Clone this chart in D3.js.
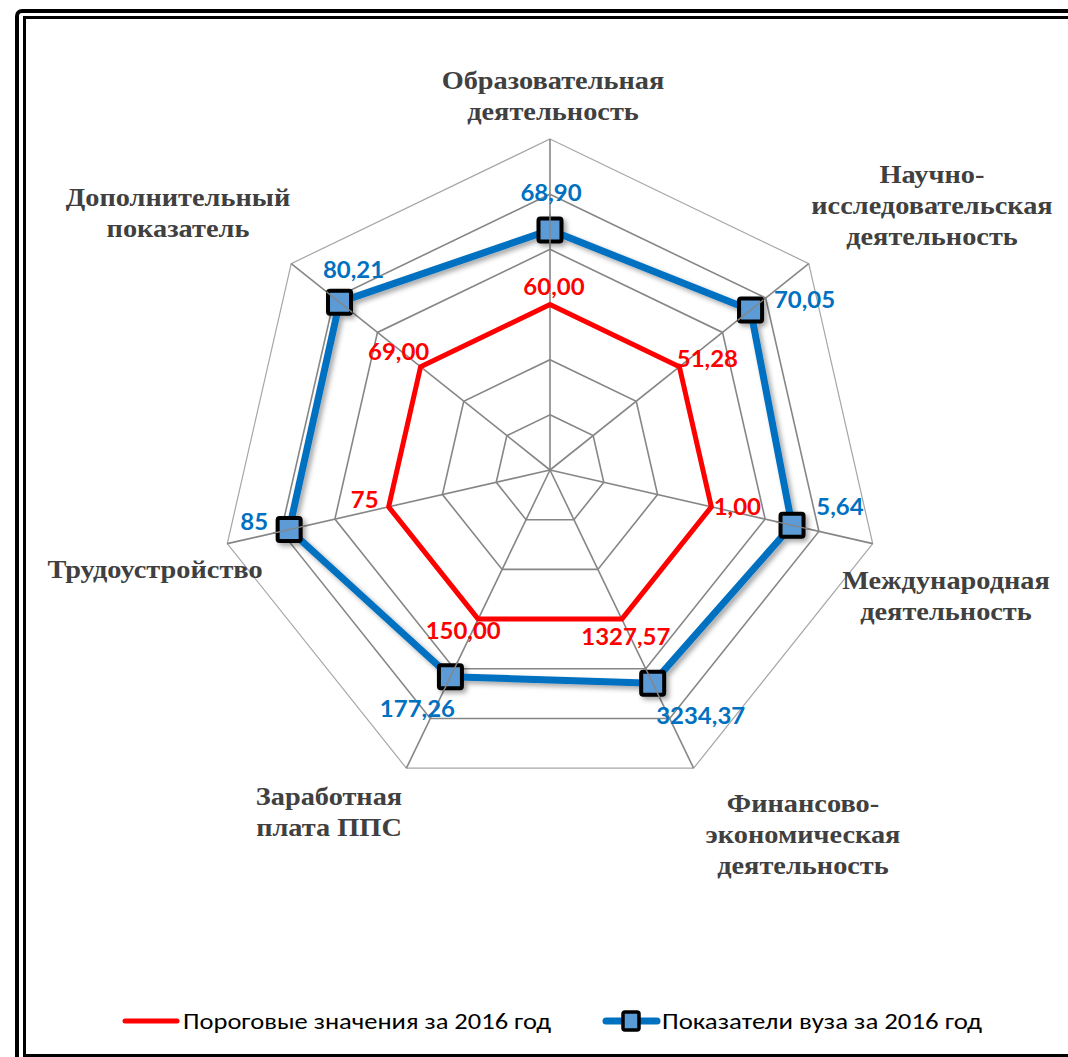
<!DOCTYPE html>
<html>
<head>
<meta charset="utf-8">
<script src="https://cdn.jsdelivr.net/npm/d3@7"></script>
<style>
  body { margin: 0; background: #fff; }
  svg { display: block; }
  .cat { font-family: "Liberation Serif", "Times New Roman", serif; font-weight: bold; font-size: 26px; fill: #404040; }
  .val { font-family: Lato, Carlito, Calibri, sans-serif; font-weight: bold; font-size: 22px; }
  .leg { font-family: Carlito, Calibri, Lato, sans-serif; font-size: 23px; fill: #000; }
</style>
</head>
<body>
<script>
// categories (axes), clockwise from the top
var categories = [
    ["Образовательная", "деятельность"],
    ["Научно-", "исследовательская", "деятельность"],
    ["Международная", "деятельность"],
    ["Финансово-", "экономическая", "деятельность"],
    ["Заработная", "плата ППС"],
    ["Трудоустройство"],
    ["Дополнительный", "показатель"]
];

// plotted (normalised) scores and their printed labels
var thresholdScore  = [3, 3, 3, 3, 3, 3, 3];
var thresholdLabels = ["60,00", "51,28", "1,00", "1327,57", "150,00", "75", "69,00"];
var universityScore  = [4.35, 4.65, 4.50, 4.29, 4.16, 4.85, 4.88];
var universityLabels = ["68,90", "70,05", "5,64", "3234,37", "177,26", "85", "80,21"];

var ringTicks = [1, 2, 3, 4, 5, 6];

var seriesNames = ["Пороговые значения за 2016 год", "Показатели вуза за 2016 год"];

// layout
var width = 1068, height = 1057;
var cx = 550, cy = 470, outerR = 331;
var stretch = 1.09;   // text in the original is a little wider than the fonts here

// label placement (dx from point, dy from point to baseline)
var thresholdOffsets  = [[4,-9],[28,0],[26,8],[4,26],[-15,20],[-24,1],[-22,-7]];
var universityOffsets = [[1,-29],[54,-2],[48,-10],[48,41],[-33,40],[-35,0],[14,-24]];
// category text: centre x and first baseline
var catPos = [[553,89],[932,183],[946,589],[803,812],[329,805],[155,578],[178,206]];
var catLineH = 31;

var svg = d3.select("body").append("svg").attr("width", width).attr("height", height);

var defs = svg.append("defs");
var shadow = defs.append("filter").attr("id", "shadow").attr("x", "-20%").attr("y", "-20%").attr("width", "140%").attr("height", "140%");
shadow.append("feDropShadow").attr("dx", 3).attr("dy", 3).attr("stdDeviation", 2.5)
      .attr("flood-color", "#000").attr("flood-opacity", 0.35);

// frame (double border)
svg.append("rect").attr("x", 17).attr("y", 11).attr("width", 1200).attr("height", 1200).attr("rx", 5)
   .attr("fill", "none").attr("stroke", "#000").attr("stroke-width", 4);
svg.append("rect").attr("x", 24.5).attr("y", 17.5).attr("width", 1200).attr("height", 1038)
   .attr("fill", "none").attr("stroke", "#000").attr("stroke-width", 3);

var n = categories.length;
var angle = d3.scaleLinear().domain([0, n]).range([0, 2 * Math.PI]);
var r = d3.scaleLinear().domain([0, d3.max(ringTicks)]).range([0, outerR]);

function px(i, v) { return cx + r(v) * Math.sin(angle(i)); }
function py(i, v) { return cy - r(v) * Math.cos(angle(i)); }
function widen(x) { return "translate(" + x + ",0) scale(" + stretch + ",1) translate(" + (-x) + ",0)"; }

var idx = d3.range(n);
var g = svg.append("g");

// grid rings
var ringLine = function(v) {
    return d3.line().curve(d3.curveLinearClosed)(idx.map(function(i){ return [px(i, v), py(i, v)]; }));
};
g.selectAll("path.ring").data(ringTicks).enter().append("path")
    .attr("class", "ring")
    .attr("d", function(d){ return ringLine(d); })
    .attr("fill", "none")
    .attr("stroke", function(d){ return d === d3.max(ringTicks) ? "#a6a6a6" : "#868686"; })
    .attr("stroke-width", function(d){ return d === d3.max(ringTicks) ? 1.2 : 1.6; });

// axes
g.selectAll("line.axis").data(idx).enter().append("line")
    .attr("x1", cx).attr("y1", cy)
    .attr("x2", function(i){ return px(i, d3.max(ringTicks)); })
    .attr("y2", function(i){ return py(i, d3.max(ringTicks)); })
    .attr("stroke", "#868686").attr("stroke-width", 1.6);

// series
var radarLine = d3.line().x(function(d, i){ return px(i, d); }).y(function(d, i){ return py(i, d); })
                  .curve(d3.curveLinearClosed);

g.append("path").attr("d", radarLine(thresholdScore))
    .attr("fill", "none").attr("stroke", "#ff0000").attr("stroke-width", 5).attr("stroke-linejoin", "round");

var uni = g.append("g").attr("filter", "url(#shadow)");
uni.append("path").attr("d", radarLine(universityScore))
    .attr("fill", "none").attr("stroke", "#0070c0").attr("stroke-width", 7).attr("stroke-linejoin", "round");
uni.selectAll("rect").data(universityScore).enter().append("rect")
    .attr("x", function(d, i){ return px(i, d) - 11.5; })
    .attr("y", function(d, i){ return py(i, d) - 11.5; })
    .attr("width", 23).attr("height", 23).attr("rx", 2)
    .attr("fill", "#5b9bd5").attr("stroke", "#000").attr("stroke-width", 4);

// axis lines again, thin, over the markers (as in the original)
g.selectAll("line.axis2").data(idx).enter().append("line")
    .attr("x1", function(i){ return px(i, universityScore[i] - 0.3); })
    .attr("y1", function(i){ return py(i, universityScore[i] - 0.3); })
    .attr("x2", function(i){ return px(i, universityScore[i] + 0.3); })
    .attr("y2", function(i){ return py(i, universityScore[i] + 0.3); })
    .attr("stroke", "#868686").attr("stroke-width", 1.4);

// data labels
g.selectAll("text.red").data(thresholdScore).enter().append("text")
    .attr("class", "val").attr("text-anchor", "middle").attr("fill", "#ff0000")
    .attr("x", function(d, i){ return px(i, d) + thresholdOffsets[i][0]; })
    .attr("y", function(d, i){ return py(i, d) + thresholdOffsets[i][1]; })
    .attr("transform", function(d, i){ return widen(px(i, d) + thresholdOffsets[i][0]); })
    .text(function(d, i){ return thresholdLabels[i]; });

g.selectAll("text.blue").data(universityScore).enter().append("text")
    .attr("class", "val").attr("text-anchor", "middle").attr("fill", "#0070c0")
    .attr("x", function(d, i){ return px(i, d) + universityOffsets[i][0]; })
    .attr("y", function(d, i){ return py(i, d) + universityOffsets[i][1]; })
    .attr("transform", function(d, i){ return widen(px(i, d) + universityOffsets[i][0]); })
    .text(function(d, i){ return universityLabels[i]; });

// category labels
categories.forEach(function(lines, i) {
    var t = svg.append("text").attr("class", "cat").attr("text-anchor", "middle")
               .attr("transform", widen(catPos[i][0]));
    lines.forEach(function(s, k) {
        t.append("tspan").attr("x", catPos[i][0]).attr("y", catPos[i][1] + k * catLineH).text(s);
    });
});

// legend
var leg = svg.append("g");
leg.append("line").attr("x1", 125).attr("x2", 177).attr("y1", 1021).attr("y2", 1021)
   .attr("stroke", "#ff0000").attr("stroke-width", 5).attr("stroke-linecap", "round");
leg.append("text").attr("class", "leg").attr("x", 183).attr("y", 1029)
   .attr("textLength", 368).attr("lengthAdjust", "spacingAndGlyphs").text(seriesNames[0]);

leg.append("line").attr("x1", 606).attr("x2", 657).attr("y1", 1021).attr("y2", 1021)
   .attr("stroke", "#0070c0").attr("stroke-width", 7).attr("stroke-linecap", "round");
leg.append("rect").attr("x", 623).attr("y", 1012).attr("width", 16).attr("height", 18).attr("rx", 2)
   .attr("fill", "#5b9bd5").attr("stroke", "#000").attr("stroke-width", 3.5);
leg.append("text").attr("class", "leg").attr("x", 662).attr("y", 1029)
   .attr("textLength", 320).attr("lengthAdjust", "spacingAndGlyphs").text(seriesNames[1]);
</script>
</body>
</html>
